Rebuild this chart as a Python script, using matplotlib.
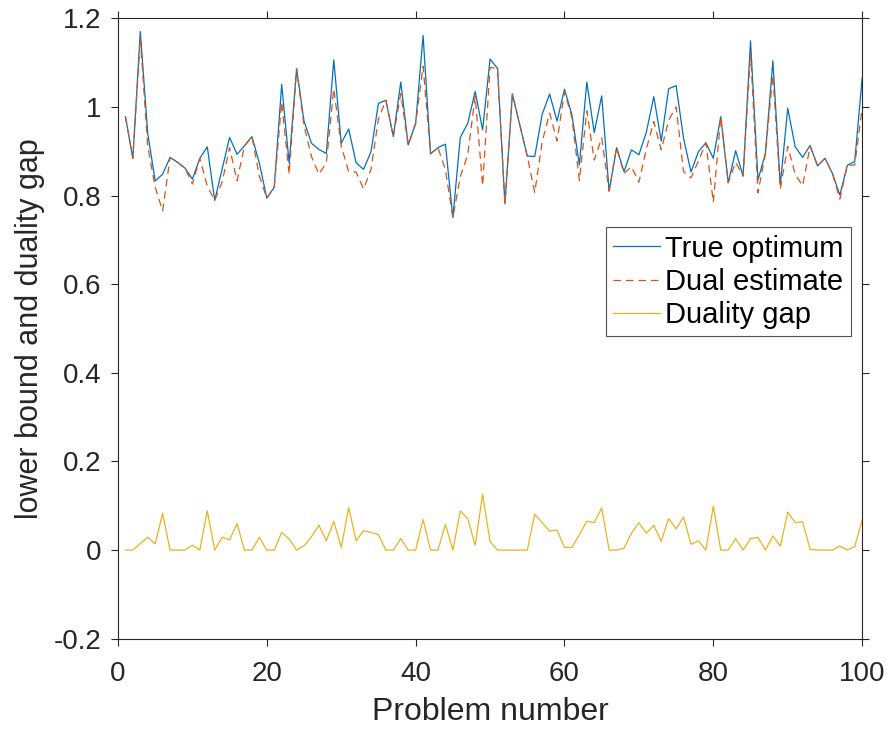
import numpy as np
import matplotlib
matplotlib.use("Agg")
import matplotlib.pyplot as plt
from matplotlib.ticker import FuncFormatter

plt.rcParams['font.family'] = ['Liberation Sans', 'DejaVu Sans']
plt.rcParams['axes.unicode_minus'] = False

# Problem index 1..100
problem = np.arange(1, 101)

# True optimum
true_opt = [
    0.978, 0.884, 1.170, 0.940, 0.833, 0.848, 0.886, 0.875, 0.862, 0.837,
    0.884, 0.910, 0.789, 0.860, 0.931, 0.893, 0.912, 0.933, 0.873, 0.794,
    0.819, 1.051, 0.873, 1.086, 0.968, 0.918, 0.904, 0.895, 1.106, 0.918,
    0.950, 0.874, 0.859, 0.899, 1.008, 1.015, 0.933, 1.056, 0.914, 0.963,
    1.161, 0.894, 0.908, 0.916, 0.750, 0.931, 0.963, 1.035, 0.948, 1.108,
    1.087, 0.781, 1.029, 0.959, 0.889, 0.888, 0.983, 1.029, 0.968, 1.040,
    0.982, 0.869, 1.056, 0.942, 1.025, 0.810, 0.908, 0.854, 0.903, 0.892,
    0.943, 1.023, 0.923, 1.041, 1.048, 0.929, 0.853, 0.899, 0.919, 0.884,
    0.978, 0.829, 0.901, 0.844, 1.149, 0.835, 0.895, 1.104, 0.824, 0.997,
    0.910, 0.886, 0.913, 0.867, 0.884, 0.850, 0.801, 0.868, 0.877, 1.065,
]

# Dual estimate
dual_est = [
    0.978, 0.884, 1.155, 0.911, 0.819, 0.765, 0.886, 0.875, 0.862, 0.826,
    0.884, 0.821, 0.789, 0.831, 0.908, 0.833, 0.912, 0.933, 0.844, 0.794,
    0.819, 1.011, 0.848, 1.086, 0.958, 0.888, 0.848, 0.874, 1.041, 0.912,
    0.854, 0.853, 0.815, 0.859, 0.973, 1.015, 0.933, 1.030, 0.914, 0.963,
    1.092, 0.894, 0.908, 0.858, 0.750, 0.843, 0.892, 1.024, 0.822, 1.089,
    1.087, 0.781, 1.029, 0.959, 0.889, 0.807, 0.921, 0.986, 0.923, 1.034,
    0.976, 0.834, 0.991, 0.880, 0.930, 0.810, 0.908, 0.850, 0.865, 0.830,
    0.905, 0.967, 0.903, 0.970, 1.000, 0.854, 0.840, 0.878, 0.919, 0.785,
    0.978, 0.829, 0.875, 0.844, 1.123, 0.806, 0.895, 1.072, 0.815, 0.911,
    0.848, 0.822, 0.911, 0.867, 0.884, 0.850, 0.792, 0.868, 0.869, 0.997,
]

# Duality gap
gap = [
    0.000, 0.000, 0.015, 0.029, 0.014, 0.083, 0.000, 0.000, 0.000, 0.011,
    0.000, 0.089, 0.000, 0.029, 0.023, 0.060, 0.000, 0.000, 0.029, 0.000,
    0.000, 0.040, 0.025, 0.000, 0.010, 0.030, 0.056, 0.021, 0.065, 0.006,
    0.096, 0.021, 0.044, 0.040, 0.035, 0.000, 0.000, 0.026, 0.000, 0.000,
    0.069, 0.000, 0.000, 0.058, 0.000, 0.088, 0.071, 0.011, 0.126, 0.019,
    0.000, 0.000, 0.000, 0.000, 0.000, 0.081, 0.062, 0.043, 0.045, 0.006,
    0.006, 0.035, 0.065, 0.062, 0.095, 0.000, 0.000, 0.004, 0.038, 0.062,
    0.038, 0.056, 0.020, 0.071, 0.048, 0.075, 0.013, 0.021, 0.000, 0.099,
    0.000, 0.000, 0.026, 0.000, 0.026, 0.029, 0.000, 0.032, 0.009, 0.086,
    0.062, 0.064, 0.002, 0.000, 0.000, 0.000, 0.009, 0.000, 0.008, 0.068,
]

x_ticks = [0, 20, 40, 60, 80, 100]
y_ticks = [-0.2, 0, 0.2, 0.4, 0.6, 0.8, 1.0, 1.2]

fig = plt.figure(figsize=(8.87, 7.30), dpi=100)
ax = fig.add_axes([0.133, 0.125, 0.839, 0.850])

ax.plot(problem, true_opt, color="#0072BD", linewidth=0.9, label="True optimum")
ax.plot(problem, dual_est, color="#D95319", linewidth=0.9, linestyle=(0, (6, 4)),
        label="Dual estimate")
ax.plot(problem, gap, color="#EDB120", linewidth=0.9, label="Duality gap")

ax.set_xlim(0, 100)
ax.set_ylim(-0.2, 1.2)
ax.set_xticks(x_ticks)
ax.set_yticks(y_ticks)
ax.yaxis.set_major_formatter(FuncFormatter(lambda v, p: f"{v:g}"))

axis_col = "#262626"
for sp in ax.spines.values():
    sp.set_color(axis_col)
    sp.set_linewidth(0.8)
ax.tick_params(direction="out", top=True, right=True, length=5, width=0.8,
               labelsize=20, colors=axis_col)
ax.tick_params(axis="x", pad=11)
ax.tick_params(axis="y", pad=7)

ax.set_xlabel("Problem number", fontsize=23, color=axis_col, labelpad=7)
ax.set_ylabel("lower bound and duality gap", fontsize=22, color=axis_col, labelpad=6)

leg = ax.legend(loc="upper right", bbox_to_anchor=(0.985, 0.663), fontsize=21,
                frameon=True, fancybox=False, handlelength=1.6, handletextpad=0.2,
                borderpad=0.25, labelspacing=0.18, borderaxespad=0)
leg.get_frame().set_edgecolor(axis_col)
leg.get_frame().set_linewidth(0.8)

fig.savefig("out.png", dpi=100)
